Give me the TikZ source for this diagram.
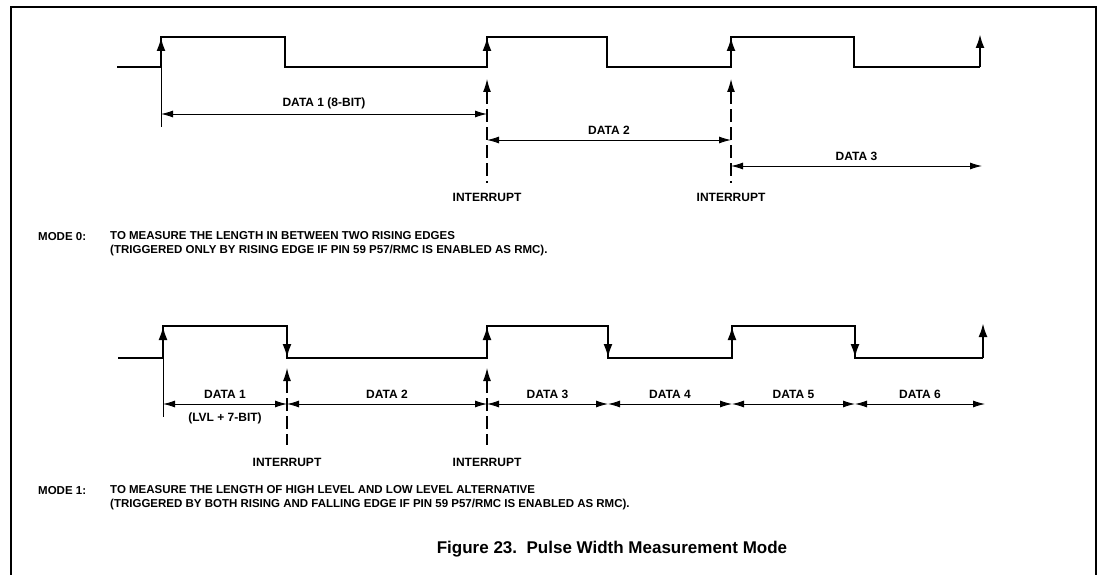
\documentclass[tikz,border=0pt]{standalone}
\usepackage{fontspec}
\setmainfont{Liberation Sans}
\usetikzlibrary{arrows.meta}
\begin{document}
\begin{tikzpicture}[x=1pt,y=-1pt,
  wave/.style={line width=2.4pt,line join=miter},
  edgetip/.style={-{Latex[length=14pt,width=9pt]},line width=2.4pt},
  dimline/.style={{Latex[length=12pt,width=7pt]}-{Latex[length=12pt,width=7pt]},line width=0.9pt},
  guide/.style={line width=1pt},
  irq/.style={{Latex[length=13pt,width=8pt]}-,line width=1.2pt,dash pattern=on 13pt off 5pt},
  lbl/.style={font=\fontsize{12}{14}\selectfont\bfseries,inner sep=0pt},
  note/.style={font=\fontsize{11.5}{14}\selectfont\bfseries,inner sep=0pt,anchor=west,align=left},
  caption/.style={font=\fontsize{17}{19}\selectfont\bfseries,inner sep=0pt}]
\useasboundingbox (0,0) rectangle (1102,575);
% frame
\draw[line width=2pt] (11,575) -- (11,7) -- (1096,7) -- (1096,575);

% mode 0 waveform
\draw[wave] (117,67) -- (161,67) -- (161,37) -- (285,37) -- (285,67) -- (487,67) -- (487,37)
  -- (607,37) -- (607,67) -- (731,67) -- (731,37) -- (854,37) -- (854,67) -- (980,67);
\draw[edgetip] (161,60) -- (161,37);
\draw[edgetip] (487,60) -- (487,37);
\draw[edgetip] (731,60) -- (731,37);
\draw[edgetip] (980,67) -- (980,34);
\draw[guide] (161,67) -- (161,127);
\draw[irq] (487,79) -- (487,183);
\draw[irq] (731,79) -- (731,183);
\draw[dimline] (161,114) -- (487,114) node[lbl,midway,above=5pt] (d01) {DATA 1 (8-BIT)};
\draw[dimline] (487,140) -- (731,140) node[lbl,midway,above=5pt] (d02) {DATA 2};
\draw[dimline] (731,166) -- (982,166) node[lbl,midway,above=5pt] (d03) {DATA 3};
\node[lbl] (int01) at (487,197) {INTERRUPT};
\node[lbl] (int02) at (731,197) {INTERRUPT};
\node[note] (mode0) at (38,237) {MODE 0:};
\node[note] (mode0txt) at (110,244)
  {TO MEASURE THE LENGTH IN BETWEEN TWO RISING EDGES\\
   (TRIGGERED ONLY BY RISING EDGE IF PIN 59 P57/RMC IS ENABLED AS RMC).};

% mode 1 waveform
\draw[wave] (118,358) -- (163,358) -- (163,326) -- (287,326) -- (287,358) -- (487,358) -- (487,326)
  -- (608,326) -- (608,358) -- (732,358) -- (732,326) -- (855,326) -- (855,358) -- (983,358);
\draw[edgetip] (163,351) -- (163,326);
\draw[edgetip] (287,333) -- (287,358);
\draw[edgetip] (487,351) -- (487,326);
\draw[edgetip] (608,333) -- (608,358);
\draw[edgetip] (732,351) -- (732,326);
\draw[edgetip] (855,333) -- (855,358);
\draw[edgetip] (983,358) -- (983,323);
\draw[guide] (163,358) -- (163,417);
\draw[irq] (287,368) -- (287,445);
\draw[irq] (487,368) -- (487,445);
\draw[dimline] (163,404) -- (287,404) node[lbl,midway,above=5pt] (d11) {DATA 1};
\draw[dimline] (287,404) -- (487,404) node[lbl,midway,above=5pt] (d12) {DATA 2};
\draw[dimline] (487,404) -- (608,404) node[lbl,midway,above=5pt] (d13) {DATA 3};
\draw[dimline] (608,404) -- (732,404) node[lbl,midway,above=5pt] (d14) {DATA 4};
\draw[dimline] (732,404) -- (855,404) node[lbl,midway,above=5pt] (d15) {DATA 5};
\draw[dimline] (855,404) -- (985,404) node[lbl,midway,above=5pt] (d16) {DATA 6};
\node[lbl] (lvl) at (225,418) {(LVL + 7-BIT)};
\node[lbl] (int11) at (287,462) {INTERRUPT};
\node[lbl] (int12) at (487,462) {INTERRUPT};
\node[note] (mode1) at (38,491) {MODE 1:};
\node[note] (mode1txt) at (110,498)
  {TO MEASURE THE LENGTH OF HIGH LEVEL AND LOW LEVEL ALTERNATIVE\\
   (TRIGGERED BY BOTH RISING AND FALLING EDGE IF PIN 59 P57/RMC IS ENABLED AS RMC).};

\node[caption] (fig) at (612,549) {Figure 23.\ \ Pulse Width Measurement Mode};
\end{tikzpicture}
\end{document}
